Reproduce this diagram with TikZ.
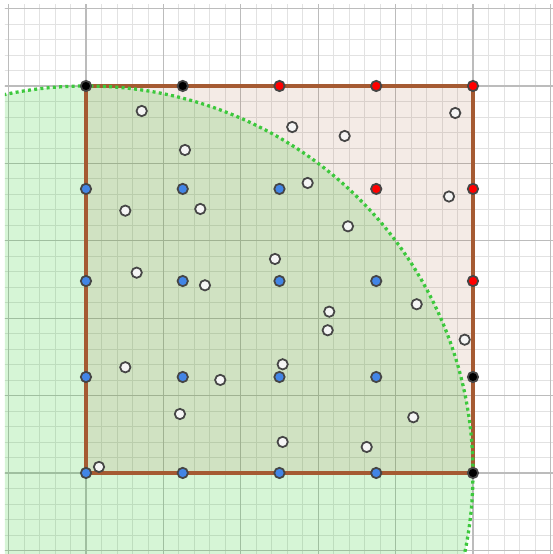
\documentclass[tikz,border=0pt]{standalone}
\usetikzlibrary{positioning}
\definecolor{gridminor}{RGB}{226,226,226}
\definecolor{gridmajor}{RGB}{188,188,188}
\definecolor{sqedge}{RGB}{165,90,50}
\definecolor{circfill}{RGB}{50,205,50}
\definecolor{circline}{RGB}{60,200,60}
\definecolor{ptedge}{RGB}{70,70,70}
\definecolor{ptblue}{RGB}{66,133,230}
\definecolor{ptred}{RGB}{255,0,0}
\definecolor{ptwhite}{RGB}{245,245,245}
\tikzset{pt/.style={circle,draw=ptedge,line width=1.3pt,
    inner sep=0pt,minimum size=7.6pt}}

\begin{document}
\begin{tikzpicture}[x=2cm,y=2cm]
\useasboundingbox (-1.111,-1.047) rectangle (6.034,6.111);
% Square goes from (ll) to (ur), circle is centred at (ll)
\coordinate (ll) at (0,0);
\coordinate (ur) at (5,5);
% Everything is cut to the graph paper
\begin{scope}
\clip (-1.047,-1.047) rectangle (6.034,6.047);
\draw[gridminor,line width=0.55pt,step=0.2] (-1.2,-1.2) grid (6.2,6.2);
\draw[gridmajor,line width=0.9pt,step=1] (-1.2,-1.2) grid (6.2,6.2);
% Fill the circle and the square
\fill[circfill,fill opacity=0.2] (ll) circle (5);
\fill[sqedge,fill opacity=0.12] (ll) rectangle (ur);
\draw[sqedge,line width=2.6pt] (ll) rectangle (ur);
% Dotted circle through the corners
\draw[circline,line width=2.4pt,dash pattern=on 2.2pt off 2.4pt] (ll) circle (5);
\end{scope}
% Lattice points
\foreach \u/\v/\c [count=\i] in {0/5/black,1.25/5/black,2.5/5/ptred,3.75/5/ptred,5/5/ptred,
  0/3.67/ptblue,1.25/3.67/ptblue,2.5/3.67/ptblue,3.75/3.67/ptred,5/3.67/ptred,
  0/2.48/ptblue,1.25/2.48/ptblue,2.5/2.48/ptblue,3.75/2.48/ptblue,5/2.48/ptred,
  0/1.24/ptblue,1.25/1.24/ptblue,2.5/1.24/ptblue,3.75/1.24/ptblue,5/1.24/black,
  0/0/ptblue,1.25/0/ptblue,2.5/0/ptblue,3.75/0/ptblue,5/0/black}
  \node[pt,fill=\c] (q\i) at (\u,\v) {};
% Random points
\foreach \u/\v [count=\i] in {0.720/4.677,1.279/4.173,2.665/4.470,3.342/4.354,
  4.771/4.651,2.864/3.747,4.690/3.572,0.508/3.389,1.477/3.411,3.385/3.187,
  2.442/2.765,0.655/2.588,1.537/2.425,4.273/2.180,3.143/2.084,3.123/1.844,
  4.893/1.722,2.541/1.404,0.508/1.366,1.735/1.202,1.214/0.762,4.229/0.720,
  2.541/0.401,3.627/0.336,0.168/0.078}
  \node[pt,fill=ptwhite] (s\i) at (\u,\v) {};
\end{tikzpicture}
\end{document}
